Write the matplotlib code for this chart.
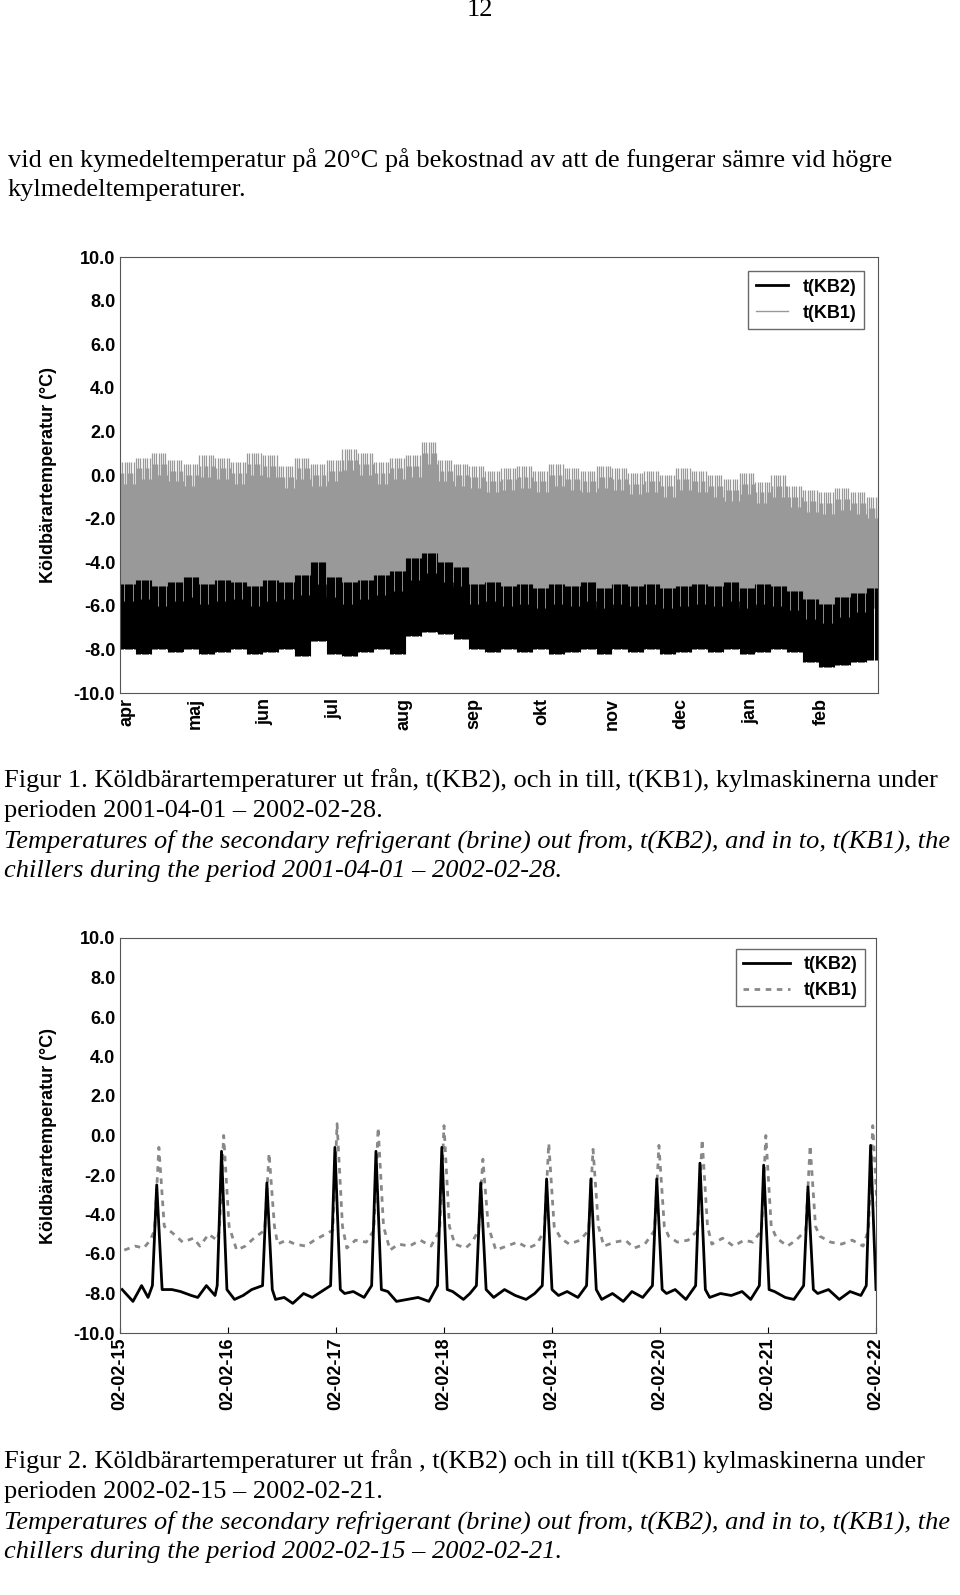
import matplotlib.pyplot as plt
import numpy as np

# ---- Figur 1: weekly levels, 2001-04-01 .. 2002-02-28 (day index) ----
week_day = np.arange(0, 336, 7)
kb2_low = [-8.0, -8.2, -8.0, -8.1, -8.0, -8.2, -8.1, -8.0, -8.2, -8.1, -8.0, -8.3,
           -7.6, -8.2, -8.3, -8.1, -8.0, -8.2, -7.4, -7.2, -7.3, -7.5, -8.0, -8.1,
           -8.0, -8.1, -8.0, -8.2, -8.1, -8.0, -8.2, -8.0, -8.1, -8.0, -8.2, -8.1,
           -8.0, -8.1, -8.0, -8.2, -8.1, -8.0, -8.1, -8.6, -8.8, -8.7, -8.6, -8.5]
kb2_high = [-5.6, -5.4, -5.7, -5.5, -5.3, -5.6, -5.4, -5.5, -5.7, -5.4, -5.5, -5.2,
            -4.6, -5.3, -5.5, -5.4, -5.2, -5.0, -4.4, -4.2, -4.6, -4.8, -5.6, -5.5,
            -5.7, -5.6, -5.8, -5.6, -5.7, -5.5, -5.8, -5.6, -5.7, -5.6, -5.8, -5.7,
            -5.6, -5.7, -5.5, -5.8, -5.6, -5.7, -5.9, -6.3, -6.5, -6.2, -6.0, -5.8]
kb1_low = [-5.8, -5.7, -6.0, -5.8, -5.6, -5.9, -5.8, -5.7, -6.0, -5.8, -5.7, -5.5,
           -5.0, -5.6, -5.9, -5.7, -5.5, -5.3, -4.8, -4.5, -4.9, -5.1, -5.9, -5.8,
           -6.0, -5.9, -6.1, -5.9, -6.0, -5.8, -6.1, -5.9, -6.0, -5.9, -6.1, -6.0,
           -5.9, -6.0, -5.8, -6.1, -5.9, -6.0, -6.2, -6.6, -6.8, -6.5, -6.3, -6.1]
kb1_peak = [0.6, 0.8, 1.0, 0.7, 0.5, 0.9, 0.8, 0.6, 1.0, 0.9, 0.4, 0.8,
            0.5, 0.7, 1.2, 1.0, 0.6, 0.8, 0.9, 1.5, 0.7, 0.5, 0.4, 0.2,
            0.3, 0.4, 0.2, 0.5, 0.3, 0.2, 0.4, 0.3, 0.1, 0.2, 0.0, 0.3,
            0.2, 0.0, -0.2, 0.1, -0.3, 0.0, -0.5, -0.7, -0.8, -0.6, -0.8, -1.0]
month_day = [0, 30, 61, 91, 122, 153, 183, 214, 244, 275, 306]
month_lbl = ["apr", "maj", "jun", "jul", "aug", "sep", "okt", "nov", "dec", "jan", "feb"]

# ---- Figur 2: 2002-02-15 .. 2002-02-22 (days) ----
base_t = [0.02, 0.12, 0.20, 0.26, 0.48, 0.56, 0.66, 0.72, 0.80, 0.88, 1.06, 1.14, 1.22,
          1.44, 1.52, 1.60, 1.70, 1.78, 2.08, 2.16, 2.26, 2.48, 2.56, 2.66, 2.76, 2.86,
          3.08, 3.18, 3.24, 3.46, 3.56, 3.66, 3.76, 3.84, 4.06, 4.14, 4.24, 4.46, 4.56,
          4.66, 4.74, 4.84, 5.06, 5.14, 5.24, 5.46, 5.56, 5.66, 5.76, 5.84, 6.06, 6.16,
          6.24, 6.46, 6.56, 6.66, 6.76, 6.86]
base_kb2 = [-7.8, -8.4, -7.6, -8.2, -7.8, -7.9, -8.1, -8.2, -7.6, -8.1, -8.3, -8.1, -7.8,
            -8.3, -8.2, -8.5, -8.0, -8.2, -8.0, -7.9, -8.2, -7.9, -8.4, -8.3, -8.2, -8.4,
            -7.9, -8.3, -8.0, -8.2, -7.8, -8.1, -8.3, -8.0, -8.1, -7.9, -8.2, -8.3, -8.0,
            -8.4, -7.9, -8.2, -8.0, -7.8, -8.3, -8.2, -8.0, -8.1, -7.9, -8.3, -7.9, -8.2,
            -8.3, -8.0, -7.8, -8.3, -7.9, -8.1]
base_kb1 = [-5.8, -5.6, -5.7, -5.3, -5.0, -5.4, -5.2, -5.6, -5.0, -5.3, -5.8, -5.6, -5.2,
            -5.5, -5.3, -5.5, -5.6, -5.3, -5.7, -5.3, -5.4, -5.8, -5.5, -5.6, -5.3, -5.6,
            -5.5, -5.7, -5.4, -5.8, -5.6, -5.4, -5.7, -5.5, -5.2, -5.5, -5.3, -5.6, -5.4,
            -5.3, -5.7, -5.5, -5.1, -5.4, -5.3, -5.5, -5.2, -5.6, -5.3, -5.4, -5.2, -5.6,
            -5.3, -5.1, -5.4, -5.5, -5.3, -5.6]
spike_t = [0.34, 0.94, 1.36, 1.99, 2.37, 2.98, 3.34, 3.95, 4.36, 4.97, 5.37, 5.96, 6.37, 6.95]
spike_kb2 = [-2.5, -0.8, -2.4, -0.6, -0.8, -0.6, -2.4, -2.2, -2.2, -2.2, -1.4, -1.5, -2.6, -0.5]
spike_kb1 = [-0.6, 0.0, -0.9, 0.6, 0.4, 0.5, -1.2, -0.4, -0.7, -0.5, -0.2, 0.0, -0.5, 0.5]
date_lbl = ["02-02-15", "02-02-16", "02-02-17", "02-02-18",
            "02-02-19", "02-02-20", "02-02-21", "02-02-22"]

serif = "Liberation Serif"
sans = "Liberation Sans"
TXT = 19
TICK = 13
fig = plt.figure(figsize=(9.6, 15.95), dpi=100)


def px(x, y):
    return x / 960, 1 - y / 1595


def style_axis(ax):
    ax.set_ylim(-10, 10)
    ax.set_yticks(np.arange(-10, 11, 2))
    ax.set_yticklabels([f"{v:.1f}" for v in np.arange(-10, 11, 2)],
                       fontfamily=sans, fontweight="bold", fontsize=TICK)
    ax.set_ylabel("Köldbärartemperatur (°C)", fontfamily=sans,
                  fontweight="bold", fontsize=TICK, labelpad=12)
    for s in ax.spines.values():
        s.set_color("#555555")


fig.text(*px(480, 10), "12", ha="center", va="center", fontfamily=serif, fontsize=TXT)
fig.text(*px(8, 160), "vid en kymedeltemperatur på 20°C på bekostnad av att de fungerar sämre vid högre",
         va="center", fontfamily=serif, fontsize=TXT)
fig.text(*px(8, 190), "kylmedeltemperaturer.", va="center", fontfamily=serif, fontsize=TXT)

# Figure 1
ax1 = fig.add_axes([120 / 960, 1 - 693 / 1595, 758 / 960, 436 / 1595])
days = np.arange(0, 335)
wk = np.minimum(days // 7, len(week_day) - 1)
lo2 = np.array(kb2_low)[wk]
hi2 = np.array(kb2_high)[wk]
lo1 = np.array(kb1_low)[wk]
pk1 = np.array(kb1_peak)[wk]
for h in (0.0, 0.33, 0.66):
    ax1.vlines(days + h, lo1, pk1 - h * 1.5, color="#999999", lw=0.9)
ax1.fill_between(week_day, kb1_low, [p - 3 for p in kb1_peak], step="post", color="#999999", lw=0)
ax1.fill_between(week_day, kb2_low, kb2_high, step="post", color="black", lw=0)
for h in (0.0, 0.5):
    ax1.vlines(days + h, lo2, hi2 + 0.6, color="black", lw=0.8)
ax1.plot([], [], color="black", lw=2, label="t(KB2)")
ax1.plot([], [], color="#999999", lw=1, label="t(KB1)")
ax1.set_xlim(0, 334)
ax1.set_xticks([d + 3 for d in month_day])
ax1.set_xticklabels(month_lbl, rotation=90, fontfamily=sans, fontweight="bold", fontsize=TICK)
ax1.tick_params(axis="x", length=0)
ax1.tick_params(axis="y", length=0)
style_axis(ax1)
ax1.legend(loc="upper right", prop={"family": sans, "weight": "bold", "size": TICK},
           fancybox=False, edgecolor="#444444", handlelength=1.8, borderaxespad=0.8)

fig.text(*px(4, 781), "Figur 1. Köldbärartemperaturer ut från, t(KB2), och in till, t(KB1), kylmaskinerna under",
         va="center", fontfamily=serif, fontsize=TXT)
fig.text(*px(4, 811), "perioden 2001-04-01 – 2002-02-28.", va="center", fontfamily=serif, fontsize=TXT)
fig.text(*px(4, 841), "Temperatures of the secondary refrigerant (brine) out from, t(KB2), and in to, t(KB1), the",
         va="center", fontfamily=serif, fontsize=TXT, style="italic")
fig.text(*px(4, 871), "chillers during the period 2001-04-01 – 2002-02-28.",
         va="center", fontfamily=serif, fontsize=TXT, style="italic")

# Figure 2
ax2 = fig.add_axes([120 / 960, 1 - 1333 / 1595, 756 / 960, 395 / 1595])
t2 = np.array(base_t + spike_t + [s - 0.04 for s in spike_t] + [s + 0.05 for s in spike_t])
y2 = np.array(base_kb2 + spike_kb2 + [-7.6] * len(spike_t) + [-7.8] * len(spike_t))
y1 = np.array(base_kb1 + spike_kb1 + [-4.8] * len(spike_t) + [-4.6] * len(spike_t))
o = np.argsort(t2)
ax2.plot(t2[o] + 0.02, y1[o], color="#888888", lw=2, ls=(0, (2, 2)), label="t(KB1)")
ax2.plot(t2[o], y2[o], color="black", lw=2, label="t(KB2)")
ax2.set_xlim(0, 7)
ax2.set_xticks(range(8))
ax2.set_xticklabels(date_lbl, rotation=90, fontfamily=sans, fontweight="bold", fontsize=TICK)
ax2.tick_params(axis="x", length=4, direction="in")
ax2.tick_params(axis="y", length=0)
style_axis(ax2)
h, l = ax2.get_legend_handles_labels()
ax2.legend(h[::-1], l[::-1], loc="upper right", prop={"family": sans, "weight": "bold", "size": TICK},
           fancybox=False, edgecolor="#444444", handlelength=2.6, borderaxespad=0.6)

fig.text(*px(4, 1462), "Figur 2. Köldbärartemperaturer ut från , t(KB2) och in till t(KB1) kylmaskinerna under",
         va="center", fontfamily=serif, fontsize=TXT)
fig.text(*px(4, 1492), "perioden 2002-02-15 – 2002-02-21.", va="center", fontfamily=serif, fontsize=TXT)
fig.text(*px(4, 1522), "Temperatures of the secondary refrigerant (brine) out from, t(KB2), and in to, t(KB1), the",
         va="center", fontfamily=serif, fontsize=TXT, style="italic")
fig.text(*px(4, 1552), "chillers during the period 2002-02-15 – 2002-02-21.",
         va="center", fontfamily=serif, fontsize=TXT, style="italic")

fig.savefig("out.png", dpi=100)
